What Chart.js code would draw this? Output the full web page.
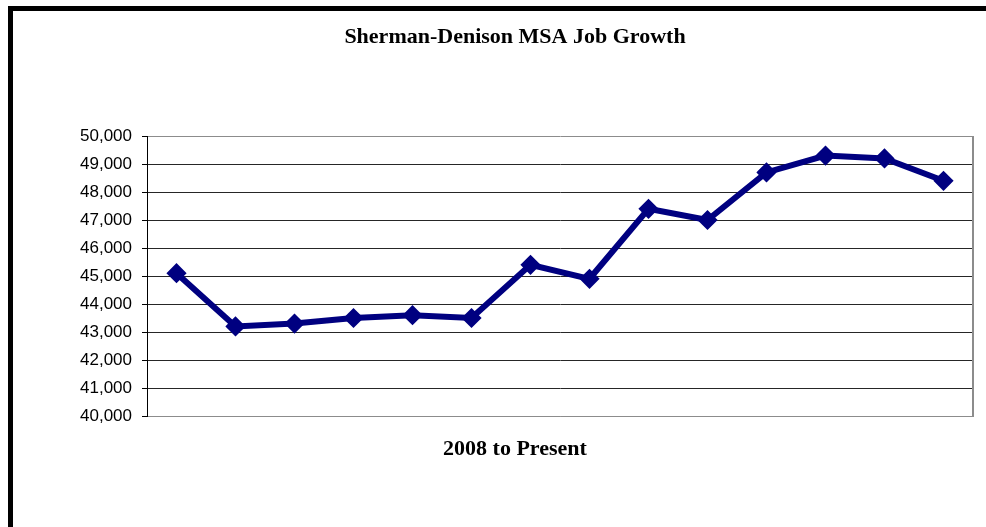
<!DOCTYPE html>
<html>
<head>
<meta charset="utf-8">
<script src="https://cdn.jsdelivr.net/npm/chart.js@4"></script>
<style>
    html, body { margin: 0; padding: 0; background: #fff; overflow: hidden; }
    #wrap { position: relative; width: 986px; height: 527px; overflow: hidden; }
    #frame {
        position: absolute; left: 8px; top: 6px; width: 1100px; height: 700px;
        border-top: 5px solid #000; border-left: 5px solid #000;
    }
    #chart { position: absolute; left: 0; top: 0; }
</style>
</head>
<body>
<div id="wrap">
    <div id="frame"></div>
    <canvas id="chart" width="986" height="527"></canvas>
</div>
<script>
const periods = ['1', '2', '3', '4', '5', '6', '7', '8', '9', '10', '11', '12', '13', '14'];
const jobs = [45100, 43200, 43300, 43500, 43600, 43500, 45400, 44900, 47400, 47000, 48700, 49300, 49200, 48400];

const yMin = 40000;
const yMax = 50000;
const yStep = 1000;

const chartTitle = 'Sherman-Denison MSA Job Growth';
const xTitle = '2008 to Present';

// right edge of the plot box (the scales only give us left/bottom)
const plotFramePlugin = {
    id: 'plotFrame',
    afterDraw: function (chart) {
        const { ctx, chartArea } = chart;
        ctx.save();
        ctx.strokeStyle = '#8c8c8c';
        ctx.lineWidth = 2;
        ctx.beginPath();
        ctx.moveTo(chartArea.right, chartArea.top);
        ctx.lineTo(chartArea.right, chartArea.bottom + 1);
        ctx.stroke();
        ctx.restore();
    }
};

const ctx = document.getElementById('chart');

new Chart(ctx, {
    type: 'line',
    data: {
        labels: periods,
        datasets: [{
            label: 'Jobs',
            data: jobs,
            borderColor: '#000080',
            backgroundColor: '#000080',
            borderWidth: 6,
            pointStyle: 'rectRot',
            pointRadius: 8,
            pointBorderWidth: 3,
            pointBackgroundColor: '#000080',
            pointBorderColor: '#000080',
            tension: 0
        }]
    },
    options: {
        responsive: false,
        animation: false,
        layout: {
            padding: { left: 57, right: 13, top: 0, bottom: 0 }
        },
        plugins: {
            legend: { display: false },
            tooltip: { enabled: false },
            title: {
                display: true,
                text: chartTitle,
                color: '#000',
                font: { family: '"Liberation Serif", "Times New Roman", serif', size: 22, weight: 'bold' },
                padding: { top: 24, bottom: 85.6 }
            },
            subtitle: {
                display: true,
                position: 'bottom',
                text: xTitle,
                color: '#000',
                font: { family: '"Liberation Serif", "Times New Roman", serif', size: 22, weight: 'bold' },
                padding: { top: 19.8, bottom: 64.8 }
            }
        },
        scales: {
            x: {
                offset: true,
                grid: { display: false, drawTicks: false },
                border: { display: true, color: '#8c8c8c', width: 1 },
                ticks: { display: false }
            },
            y: {
                min: yMin,
                max: yMax,
                afterFit: function (scale) {
                    scale.width = 90;
                },
                grid: {
                    drawTicks: true,
                    tickLength: 5,
                    tickColor: '#000',
                    color: function (c) {
                        if (!c.tick) return '#262626';
                        return (c.tick.value === yMin || c.tick.value === yMax) ? '#8c8c8c' : '#262626';
                    }
                },
                border: { display: true, color: '#000', width: 1 },
                ticks: {
                    stepSize: yStep,
                    padding: 10,
                    color: '#000',
                    font: { family: '"Liberation Sans", Arial, sans-serif', size: 17 },
                    callback: function (value) {
                        return value.toLocaleString('en-US');
                    }
                }
            }
        }
    },
    plugins: [plotFramePlugin]
});
</script>
</body>
</html>
